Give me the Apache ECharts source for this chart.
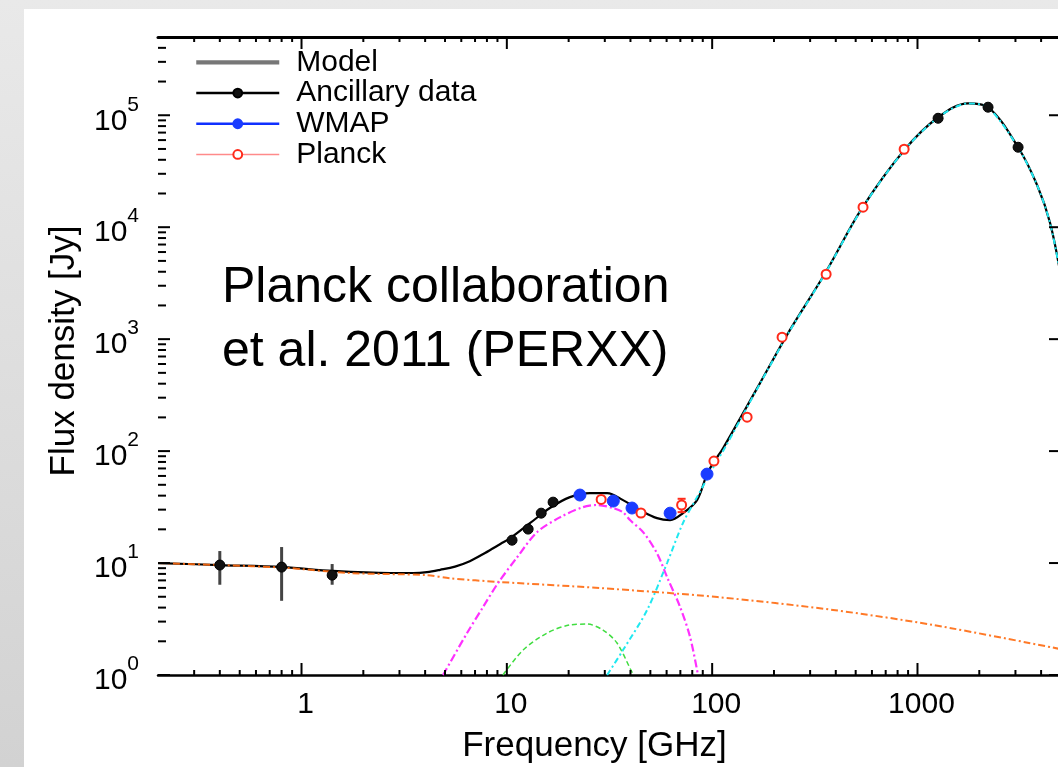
<!DOCTYPE html>
<html>
<head>
<meta charset="utf-8">
<title>Perseus SED</title>
<script src="https://cdn.jsdelivr.net/npm/echarts@6.0.0/dist/echarts.min.js"></script>
<style>
html,body{margin:0;padding:0;}
body{width:1058px;height:767px;overflow:hidden;position:relative;background:linear-gradient(180deg,#e9e9e9 0%,#d2d2d2 100%);}
#panel{position:absolute;left:24px;top:9px;right:0;bottom:0;background:#fff;}
#chart{position:absolute;left:0;top:0;width:1058px;height:767px;}
</style>
</head>
<body>
<div id="panel"></div>
<div id="chart"></div>
<script>
// ---------------- data ----------------
// Total model
const modelFreq = [0.2, 0.40, 0.81, 1.42, 2.70, 3.5, 4.08, 4.73, 5.59, 6.6, 7.83, 9.3, 10.4, 13.0, 16.2, 20.3, 25.4, 30.8, 36.8, 44.5, 53.9, 62.4, 72.1, 84.4, 94.4, 102, 113, 171, 239, 355, 537, 861, 1262, 1766, 2206, 3090, 3828, 4428, 5000];
const modelFlux = [10.0, 9.6, 9.2, 8.5, 8.15, 8.15, 8.3, 8.7, 9.3, 10.4, 12.3, 14.8, 16.7, 22.8, 31.0, 38.8, 42.2, 42.2, 36.5, 29.7, 25.2, 24.2, 27.9, 36.5, 62.3, 80.0, 106, 405, 1203, 3882, 14780, 48700, 95960, 127900, 117900, 51800, 23700, 10850, 3580];
// Free-free component (orange)
const freeFreq = [0.2, 0.40, 0.81, 1.72, 4.08, 5.3, 9.3, 28.4, 106, 388, 1190, 5000];
const freeFlux = [10.0, 9.6, 9.1, 8.15, 7.8, 7.3, 6.77, 5.98, 4.97, 3.81, 2.80, 1.70];
// Spinning dust component 1 (magenta)
const spin1Freq = [4.89, 6.4, 7.66, 9.06, 11.2, 14.0, 18.2, 23.5, 27.5, 32.9, 36.7, 39.8, 46.2, 53.9, 60.3, 69.8, 78.1, 85.3];
const spin1Flux = [1.0, 2.37, 4.05, 6.63, 11.2, 18.8, 25.7, 31.6, 33.0, 31.0, 28.5, 24.2, 18.8, 12.2, 7.5, 4.05, 2.18, 1.0];
// Spinning dust component 2 (green)
const spin2Freq = [9.57, 12.0, 15.7, 20.3, 24.6, 29.4, 34.4, 40.7, 41.6];
const spin2Flux = [1.0, 1.67, 2.37, 2.80, 2.85, 2.52, 1.93, 1.06, 1.0];
// Thermal dust component (cyan)
const dustFreq = [30.8, 36.8, 48.2, 60.3, 72.1, 84.4, 106, 113, 171, 239, 355, 537, 861, 1262, 1766, 2206, 3090, 3828, 4428, 5000];
const dustFlux = [1.0, 1.67, 3.80, 10.0, 22.8, 38.8, 83.1, 100, 400, 1190, 3850, 14700, 48500, 95500, 127500, 117500, 51600, 23600, 10800, 3570];

// Measurements
const ancFreq = [0.40, 0.80, 1.41, 10.6, 12.7, 14.7, 16.8, 1260, 2206, 3090];
const ancFlux = [9.6, 9.2, 7.8, 16.0, 20.1, 27.9, 35.0, 94000, 118000, 51800];
const ancErrFreq = [0.40, 0.80, 1.41];
const ancErrLow = [6.4, 4.6, 6.4];
const ancErrHigh = [12.8, 13.9, 9.8];

const wmapFreq = [22.7, 33.0, 40.7, 62.4, 94.4];
const wmapFlux = [40.5, 35.8, 31.0, 27.9, 62.3];

const planckFreq = [28.8, 45.0, 71.0, 102, 148, 219, 359, 543, 861];
const planckFlux = [37.0, 28.0, 33.0, 81.5, 201, 1042, 3800, 15100, 49700];
const planckErrFreq = [71.0];
const planckErrLow = [28.5];
const planckErrHigh = [37.5];

// Axis ticks
const X_MIN = 0.2, X_MAX = 5000, Y_MIN = 1, Y_MAX = 500000;
const xMajorTicks = [1, 10, 100, 1000];
const xMinorTicks = [0.3, 0.4, 0.5, 0.6, 0.7, 0.8, 0.9, 2, 3, 4, 5, 6, 7, 8, 9, 20, 30, 40, 50, 60, 70, 80, 90, 200, 300, 400, 500, 600, 700, 800, 900, 2000, 3000, 4000];
const yMajorTicks = [1, 10, 100, 1000, 10000, 100000];
const yMinorTicks = [2, 3, 4, 5, 6, 7, 8, 9, 20, 30, 40, 50, 60, 70, 80, 90, 200, 300, 400, 500, 600, 700, 800, 900, 2000, 3000, 4000, 5000, 6000, 7000, 8000, 9000, 20000, 30000, 40000, 50000, 60000, 70000, 80000, 90000, 200000, 300000, 400000];

// ---------------- helpers ----------------
const FONT = '"Liberation Sans", Arial, Helvetica, sans-serif';
const zip = (a, b) => a.map((v, i) => [v, b[i]]);
const zip3 = (a, b, c) => a.map((v, i) => [v, b[i], c[i]]);

function xTickRender(len) {
  return function (params, api) {
    const v = api.value(0);
    const b = api.coord([v, Y_MIN]);
    const t = api.coord([v, Y_MAX]);
    return {type: 'group', children: [
      {type: 'line', shape: {x1: b[0], y1: b[1], x2: b[0], y2: b[1] - len}, style: {stroke: '#000', lineWidth: 2}},
      {type: 'line', shape: {x1: t[0], y1: t[1], x2: t[0], y2: t[1] + len}, style: {stroke: '#000', lineWidth: 2}}
    ]};
  };
}
function yTickRender(len, rightLen) {
  return function (params, api) {
    const v = api.value(1);
    const l = api.coord([X_MIN, v]);
    const r = api.coord([X_MAX, v]);
    const children = [{type: 'line', shape: {x1: l[0], y1: l[1], x2: l[0] + len, y2: l[1]}, style: {stroke: '#000', lineWidth: 2}}];
    if (rightLen) children.push({type: 'line', shape: {x1: r[0], y1: r[1], x2: r[0] - rightLen, y2: r[1]}, style: {stroke: '#000', lineWidth: 2}});
    return {type: 'group', children: children};
  };
}
function errRender(color, width, cap) {
  return function (params, api) {
    const x = api.value(0);
    const p1 = api.coord([x, api.value(1)]);
    const p2 = api.coord([x, api.value(2)]);
    const children = [{type: 'line', shape: {x1: p1[0], y1: p1[1], x2: p2[0], y2: p2[1]}, style: {stroke: color, lineWidth: width}}];
    if (cap) {
      children.push({type: 'line', shape: {x1: p1[0] - cap, y1: p1[1], x2: p1[0] + cap, y2: p1[1]}, style: {stroke: color, lineWidth: width}});
      children.push({type: 'line', shape: {x1: p2[0] - cap, y1: p2[1], x2: p2[0] + cap, y2: p2[1]}, style: {stroke: color, lineWidth: width}});
    }
    return {type: 'group', children: children};
  };
}

const chart = echarts.init(document.getElementById('chart'), null, {renderer: 'canvas'});

const option = {
  backgroundColor: 'transparent',
  animation: false,
  textStyle: {fontFamily: FONT},
  grid: {left: 158, top: 37, right: -3, bottom: 92, containLabel: false, outerBoundsMode: 'none'},
  xAxis: [
    {
      type: 'log', logBase: 10, min: X_MIN, max: X_MAX, position: 'bottom',
      axisLine: {show: true, lineStyle: {color: '#000', width: 2.5}},
      axisTick: {show: false}, minorTick: {show: false},
      splitLine: {show: false}, minorSplitLine: {show: false},
      axisLabel: {
        show: true, color: '#000', fontSize: 30, fontFamily: FONT, margin: 15,
        padding: [0, 0, 0, 8], showMinLabel: false, showMaxLabel: false,
        formatter: function (v) { return v >= 1 ? String(Math.round(v)) : ''; }
      },
      name: 'Frequency [GHz]', nameLocation: 'middle', nameGap: 54,
      nameTextStyle: {color: '#000', fontSize: 35, fontFamily: FONT, padding: [0, 30, 0, 0]}
    },
    {
      type: 'log', logBase: 10, min: X_MIN, max: X_MAX, position: 'top',
      axisLine: {show: true, lineStyle: {color: '#000', width: 3}},
      axisTick: {show: false}, axisLabel: {show: false}, splitLine: {show: false}
    }
  ],
  yAxis: [
    {
      type: 'log', logBase: 10, min: Y_MIN, max: Y_MAX, position: 'left',
      axisLine: {show: false}, axisTick: {show: false}, minorTick: {show: false},
      splitLine: {show: false}, minorSplitLine: {show: false},
      axisLabel: {
        show: true, margin: 19, showMaxLabel: false, showMinLabel: true,
        formatter: function (v) { return '{b|10}{s|' + Math.round(Math.log10(v)) + '}'; },
        rich: {
          b: {fontSize: 30, fontFamily: FONT, color: '#000', lineHeight: 42, verticalAlign: 'bottom'},
          s: {fontSize: 21, fontFamily: FONT, color: '#000', lineHeight: 24, verticalAlign: 'top'}
        }
      },
      name: 'Flux density [Jy]', nameLocation: 'middle', nameGap: 76,
      nameTextStyle: {color: '#000', fontSize: 35, fontFamily: FONT, padding: [0, 0, 0, 10]}
    },
    {
      type: 'log', logBase: 10, min: Y_MIN, max: Y_MAX, position: 'right',
      axisLine: {show: true, lineStyle: {color: '#000', width: 2.5}},
      axisTick: {show: false}, axisLabel: {show: false}, splitLine: {show: false}
    }
  ],
  legend: {
    orient: 'vertical', left: 195, top: 47, padding: 0, itemGap: 0,
    itemWidth: 83, itemHeight: 11, selectedMode: false,
    textStyle: {fontSize: 30, lineHeight: 30.7, color: '#000', fontFamily: FONT, padding: [0, 0, 0, 12]},
    data: [
      {name: 'Model', icon: 'path://M0,0H100V5H0Z', itemStyle: {color: '#777777'}},
      {name: 'Ancillary data', lineStyle: {color: '#000', width: 2.5, opacity: 1, type: 'solid'}},
      {name: 'WMAP', lineStyle: {color: '#1030ff', width: 2.5, opacity: 1, type: 'solid'}},
      {name: 'Planck', lineStyle: {color: '#ff8a8a', width: 1.5, opacity: 1, type: 'solid'}}
    ]
  },
  graphic: [
    {
      type: 'text', left: 222, top: 256, z: 100,
      style: {text: 'Planck collaboration\net al. 2011 (PERXX)', fontSize: 50, fontFamily: FONT, fill: '#000', lineHeight: 64}
    }
  ],
  series: [
    // ticks
    {type: 'custom', name: 'xMajor', silent: true, z: 20, clip: false, renderItem: xTickRender(12), data: xMajorTicks.map(v => [v, Y_MIN])},
    {type: 'custom', name: 'xMinor', silent: true, z: 20, clip: false, renderItem: xTickRender(5), data: xMinorTicks.map(v => [v, Y_MIN])},
    {type: 'custom', name: 'yMajor', silent: true, z: 20, clip: false, renderItem: yTickRender(12, 12), data: yMajorTicks.map(v => [X_MIN, v])},
    {type: 'custom', name: 'yMinor', silent: true, z: 20, clip: false, renderItem: yTickRender(8, 0), data: yMinorTicks.map(v => [X_MIN, v])},
    // model
    {
      type: 'line', name: 'Model', data: zip(modelFreq, modelFlux), smooth: 0.35,
      symbol: 'none', z: 2, lineStyle: {color: '#000', width: 2.2}, itemStyle: {color: '#000'}
    },
    // components
    {
      type: 'line', name: 'Free-free', data: zip(freeFreq, freeFlux), smooth: 0.3, symbol: 'none', z: 3,
      lineStyle: {color: '#ff6a10', width: 2, type: [7, 3, 2, 3], opacity: 0.9}
    },
    {
      type: 'line', name: 'Spinning dust 1', data: zip(spin1Freq, spin1Flux), smooth: 0.3, symbol: 'none', z: 3,
      lineStyle: {color: '#ff30ff', width: 2.2, type: [8, 3, 2, 3]}
    },
    {
      type: 'line', name: 'Spinning dust 2', data: zip(spin2Freq, spin2Flux), smooth: 0.3, symbol: 'none', z: 3,
      lineStyle: {color: '#40dd40', width: 1.5, type: [5, 3]}
    },
    {
      type: 'line', name: 'Thermal dust', data: zip(dustFreq, dustFlux), smooth: 0.3, symbol: 'none', z: 3,
      lineStyle: {color: '#20e8f0', width: 2, type: [6, 3, 2, 3]}
    },
    // error bars
    {type: 'custom', name: 'ancErr', silent: true, z: 4, renderItem: errRender('#444', 3, 0), encode: {x: 0, y: [1, 2]}, data: zip3(ancErrFreq, ancErrLow, ancErrHigh)},
    {type: 'custom', name: 'planckErr', silent: true, z: 6, renderItem: errRender('#ff2a1a', 2, 4), encode: {x: 0, y: [1, 2]}, data: zip3(planckErrFreq, planckErrLow, planckErrHigh)},
    // measurements
    {
      type: 'line', name: 'Ancillary data', data: zip(ancFreq, ancFlux), symbol: 'circle', symbolSize: 10,
      showSymbol: true, showAllSymbol: true, z: 5,
      lineStyle: {opacity: 0, width: 0}, itemStyle: {color: '#111', borderColor: '#000', borderWidth: 1}
    },
    {
      type: 'line', name: 'WMAP', data: zip(wmapFreq, wmapFlux), symbol: 'circle', symbolSize: 12,
      showSymbol: true, showAllSymbol: true, z: 5,
      lineStyle: {opacity: 0, width: 0}, itemStyle: {color: '#1a3cff', borderColor: '#1a3cff', borderWidth: 1}
    },
    {
      type: 'line', name: 'Planck', data: zip(planckFreq, planckFlux), symbol: 'circle', symbolSize: 9,
      showSymbol: true, showAllSymbol: true, z: 6,
      lineStyle: {opacity: 0, width: 0}, itemStyle: {color: '#ffffff', borderColor: '#ff2a1a', borderWidth: 2}
    }
  ]
};
chart.setOption(option);
</script>
</body>
</html>
